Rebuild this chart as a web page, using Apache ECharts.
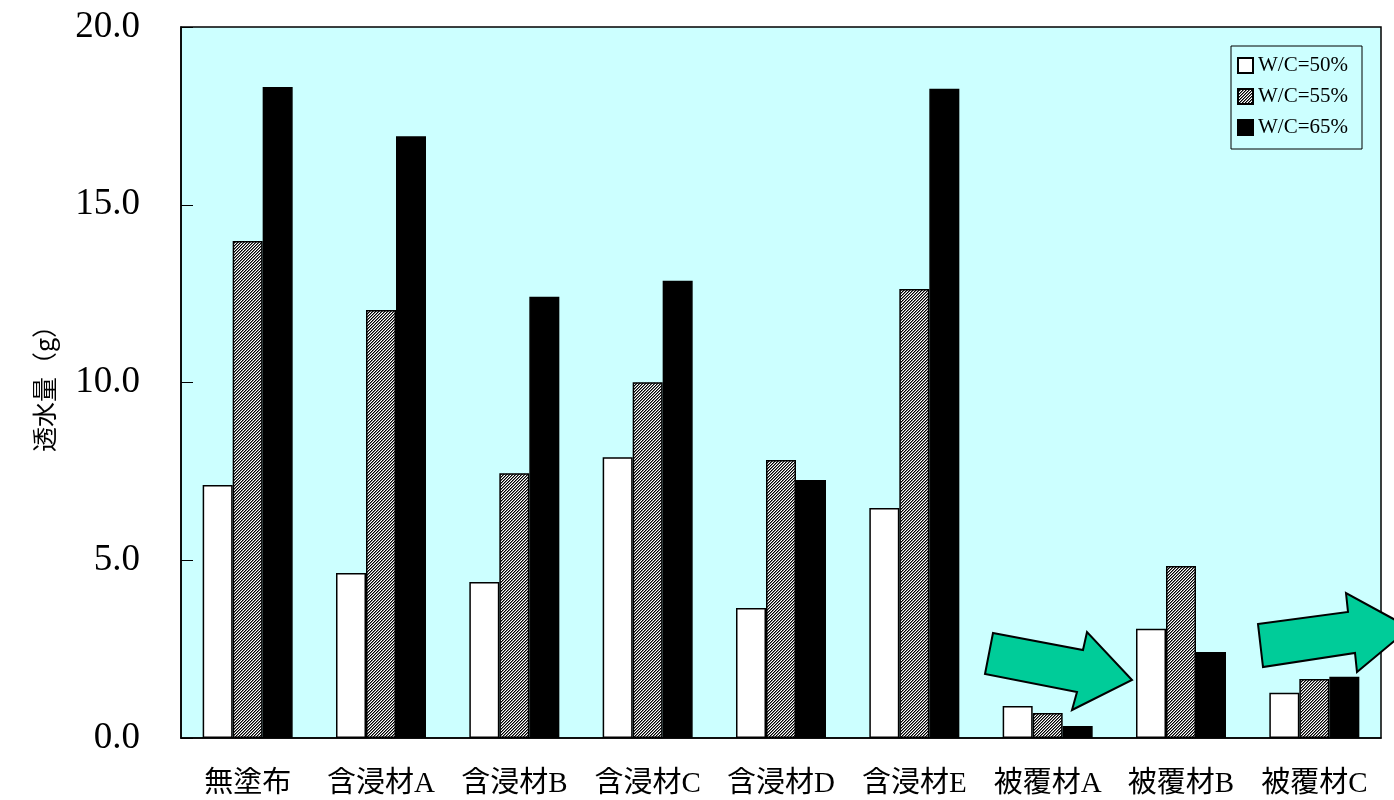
<!DOCTYPE html>
<html>
<head>
<meta charset="utf-8">
<script src="https://cdn.jsdelivr.net/npm/echarts@6/dist/echarts.min.js"></script>
<style>
  html, body { margin: 0; padding: 0; background: #ffffff; }
  #chart { width: 1394px; height: 800px; }
</style>
</head>
<body>
<div id="chart"></div>
<script>
// Treatment types along the x axis
const categories = ['無塗布', '含浸材A', '含浸材B', '含浸材C', '含浸材D', '含浸材E', '被覆材A', '被覆材B', '被覆材C'];
// Water permeation (g) for each water/cement ratio
const wc50 = [7.12, 4.64, 4.39, 7.90, 3.66, 6.47, 0.90, 3.07, 1.27];
const wc55 = [13.98, 12.04, 7.45, 10.01, 7.82, 12.63, 0.70, 4.84, 1.66];
const wc65 = [18.31, 16.93, 12.41, 12.86, 7.26, 18.26, 0.34, 2.42, 1.72];
const seriesNames = ['W/C=50%', 'W/C=55%', 'W/C=65%'];
const yTicks = [0, 5, 10, 15, 20];

// Fine diagonal hatch fill for the middle series
function hatchPattern() {
  const n = 3;
  const c = document.createElement('canvas');
  c.width = n; c.height = n;
  const g = c.getContext('2d');
  g.fillStyle = '#ffffff';
  g.fillRect(0, 0, n, n);
  g.fillStyle = '#000000';
  for (let i = 0; i < n; i++) {
    g.fillRect(i, n - 1 - i, 1, 1);
  }
  g.fillStyle = '#777777';
  for (let i = 0; i < n; i++) {
    g.fillRect(i, (n - i) % n, 1, 1);
  }
  return c;
}

const serif = '"Liberation Serif", "Times New Roman", serif';
const mixed = '"Liberation Serif", "Noto Sans CJK JP", serif';

const chart = echarts.init(document.getElementById('chart'));

function barSeries(name, data, color) {
  return {
    name: name,
    type: 'bar',
    data: data,
    barWidth: 30,
    barGap: '0%',
    itemStyle: { color: color, borderColor: '#000', borderWidth: 1.5 },
    emphasis: { disabled: true }
  };
}

// Green block arrows pointing to the coating results
function arrow(points) {
  return {
    type: 'polygon',
    shape: { points: points },
    style: { fill: '#00CC99', stroke: '#000', lineWidth: 2 },
    z: 100
  };
}

chart.setOption({
  animation: false,
  backgroundColor: '#ffffff',
  grid: {
    left: 181, top: 27, right: 13, bottom: 62,
    show: true, backgroundColor: '#CCFFFF', borderColor: '#000', borderWidth: 1.5
  },
  legend: {
    orient: 'vertical',
    right: 32, top: 46,
    icon: 'rect',
    itemWidth: 15, itemHeight: 15, itemGap: 10,
    padding: [9, 14, 11, 6],
    borderColor: '#000', borderWidth: 1,
    backgroundColor: 'transparent',
    data: seriesNames,
    textStyle: { fontFamily: serif, fontSize: 21, color: '#000' },
    selectedMode: false
  },
  xAxis: {
    type: 'category',
    data: categories,
    axisLine: { lineStyle: { color: '#000', width: 1.5 } },
    axisTick: { inside: true, length: 8, lineStyle: { color: '#000' } },
    axisLabel: { interval: 0, hideOverlap: false, fontFamily: mixed, fontSize: 29, color: '#000', margin: 32 }
  },
  yAxis: {
    type: 'value',
    min: yTicks[0], max: yTicks[yTicks.length - 1], interval: 5,
    name: '透水量（g）',
    nameLocation: 'middle',
    nameRotate: 90,
    nameGap: 124,
    nameTextStyle: { fontFamily: '"Noto Sans CJK JP", sans-serif', fontSize: 25, color: '#000' },
    axisLine: { show: true, lineStyle: { color: '#000', width: 1.5 } },
    axisTick: { show: true, inside: true, length: 12, lineStyle: { color: '#000' } },
    splitLine: { show: false },
    axisLabel: {
      fontFamily: serif, fontSize: 37, color: '#000', margin: 41,
      formatter: v => v.toFixed(1)
    }
  },
  series: [
    barSeries(seriesNames[0], wc50, '#ffffff'),
    barSeries(seriesNames[1], wc55, { image: hatchPattern(), repeat: 'repeat' }),
    barSeries(seriesNames[2], wc65, '#000000')
  ],
  graphic: [
    arrow([[993, 633], [1083, 650], [1087, 632], [1132, 680], [1072, 710], [1077, 692], [985, 674]]),
    arrow([[1258, 624], [1348, 612], [1346, 593], [1410, 628], [1357, 672], [1355, 653], [1263, 667]])
  ]
});
</script>
</body>
</html>
